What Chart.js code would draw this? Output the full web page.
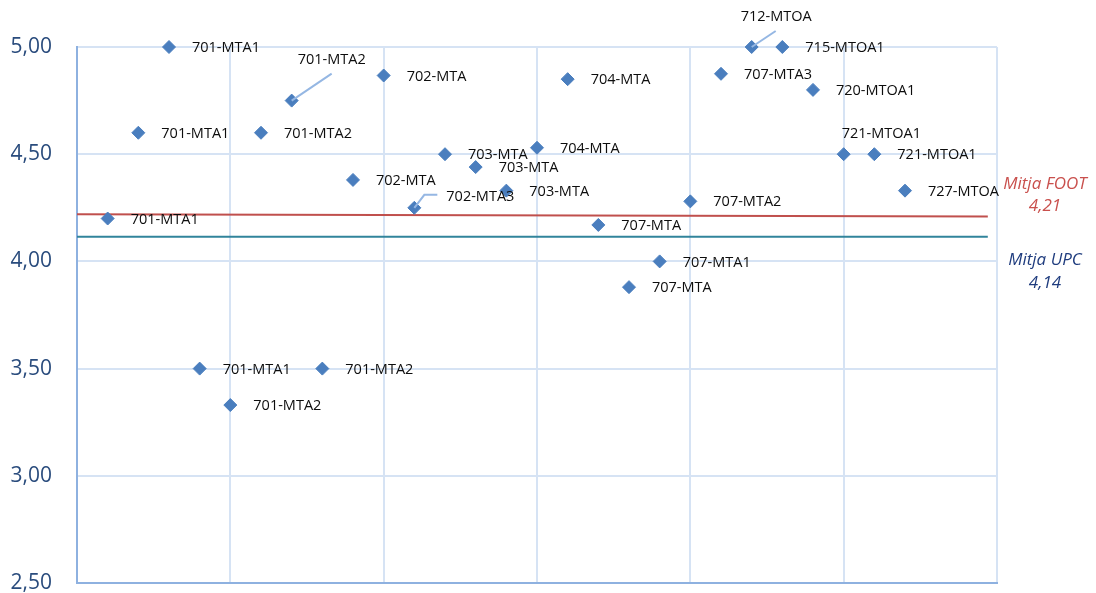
<!DOCTYPE html>
<html>
<head>
<meta charset="utf-8">
<script src="https://cdn.jsdelivr.net/npm/chart.js@4/dist/chart.umd.min.js"></script>
<style>
  html, body { margin: 0; padding: 0; background: #fff; }
  #wrap { width: 1096px; height: 593px; }
</style>
</head>
<body>
<div id="wrap"><canvas id="chart" width="1096" height="593"></canvas></div>
<script>
// group scores, one point per group
const pointX = [1, 2, 3, 4, 5, 6, 7, 8, 9, 10, 11, 12, 13, 14, 15, 16, 17, 18, 19, 20, 21, 22, 23, 24, 25, 26, 27];
const pointY = [4.20, 4.60, 5.00, 3.50, 3.33, 4.60, 4.75, 3.50, 4.38, 4.867, 4.25, 4.50, 4.44, 4.33, 4.53, 4.85,
                4.17, 3.88, 4.00, 4.28, 4.875, 5.00, 5.00, 4.80, 4.50, 4.50, 4.33];
const pointNames = ['701-MTA1', '701-MTA1', '701-MTA1', '701-MTA1', '701-MTA2', '701-MTA2', '701-MTA2', '701-MTA2',
                    '702-MTA', '702-MTA', '702-MTA3', '703-MTA', '703-MTA', '703-MTA', '704-MTA', '704-MTA',
                    '707-MTA', '707-MTA', '707-MTA1', '707-MTA2', '707-MTA3', '712-MTOA', '715-MTOA1', '720-MTOA1',
                    '721-MTOA1', '721-MTOA1', '727-MTOA'];

// mean lines
const meanX = [0, 29.7];
const footMean = [4.22, 4.21];
const upcMean = [4.115, 4.115];
const footText = ['Mitja FOOT', '4,21'];
const upcText = ['Mitja UPC', '4,14'];

// y axis
const yMin = 2.5, yMax = 5.0, yStep = 0.5;
const xMin = 0, xMax = 30, xStep = 5;

// label placement (style only): default right of the marker, a few moved with leader lines
const labelDefault = { dx: 23, dy: 1 };
const labelMoved = {
    6:  { dx: 6,   dy: -41, leader: [[40, -27]] },
    10: { dx: 32,  dy: -11, leader: [[10, -13], [23, -13]] },
    21: { dx: -11, dy: -30, leader: [[24, -16]] },
    24: { dx: -2,  dy: -20 }
};

const FONT = "'Open Sans', 'DejaVu Sans', sans-serif";

const pointLabels = {
    id: 'pointLabels',
    afterDatasetsDraw(chart) {
        const ctx = chart.ctx;
        const xs = chart.scales.x, ys = chart.scales.y;
        ctx.save();
        // leader lines
        ctx.strokeStyle = '#95B7E3';
        ctx.lineWidth = 2;
        pointY.forEach((v, i) => {
            const p = labelMoved[i];
            if (!p || !p.leader) return;
            const px = xs.getPixelForValue(pointX[i]);
            const py = ys.getPixelForValue(v);
            ctx.beginPath();
            ctx.moveTo(px, py);
            p.leader.forEach(l => ctx.lineTo(px + l[0], py + l[1]));
            ctx.stroke();
        });
        // names
        ctx.font = '14.5px ' + FONT;
        ctx.fillStyle = '#0d0d0d';
        ctx.textAlign = 'left';
        ctx.textBaseline = 'middle';
        pointY.forEach((v, i) => {
            const p = labelMoved[i] || labelDefault;
            const px = xs.getPixelForValue(pointX[i]);
            const py = ys.getPixelForValue(v);
            ctx.fillText(pointNames[i], px + p.dx, py + p.dy);
        });
        // mean annotations on the right
        const cx = chart.chartArea.right + 48;
        ctx.font = 'italic 17px ' + FONT;
        ctx.textAlign = 'center';
        const fy = ys.getPixelForValue(footMean[1]);
        ctx.fillStyle = '#C9504D';
        ctx.fillText(footText[0], cx, fy - 32);
        ctx.fillText(footText[1], cx, fy - 10);
        const uy = ys.getPixelForValue(upcMean[1]);
        ctx.fillStyle = '#1F3C7E';
        ctx.fillText(upcText[0], cx, uy + 23);
        ctx.fillText(upcText[1], cx, uy + 46);
        ctx.restore();
    }
};

const ctx = document.getElementById('chart').getContext('2d');
new Chart(ctx, {
    type: 'scatter',
    data: {
        datasets: [
            {
                type: 'line',
                data: meanX.map((x, i) => ({ x: x, y: footMean[i] })),
                borderColor: '#C0504D',
                borderWidth: 2,
                pointRadius: 0,
                order: 3
            },
            {
                type: 'line',
                data: meanX.map((x, i) => ({ x: x, y: upcMean[i] })),
                borderColor: '#31849B',
                borderWidth: 2,
                pointRadius: 0,
                order: 2
            },
            {
                data: pointX.map((x, i) => ({ x: x, y: pointY[i] })),
                pointStyle: 'rectRot',
                pointRadius: 6.5,
                pointBackgroundColor: '#4A7EBE',
                pointBorderColor: '#4A7EBE',
                pointBorderWidth: 1,
                clip: false,
                order: 1
            }
        ]
    },
    options: {
        responsive: false,
        animation: false,
        layout: { padding: { top: 47, right: 99, bottom: 10, left: 0 } },
        plugins: {
            legend: { display: false },
            tooltip: { enabled: false }
        },
        scales: {
            x: {
                type: 'linear',
                min: xMin,
                max: xMax,
                ticks: { display: false, stepSize: xStep },
                grid: { color: '#D6E3F4', lineWidth: 2, drawTicks: false },
                border: { color: '#8EB1E0', width: 2 },
                afterFit: axis => { axis.height = 0; }
            },
            y: {
                min: yMin,
                max: yMax,
                ticks: {
                    stepSize: yStep,
                    padding: 25,
                    color: '#2A4C7D',
                    font: { family: FONT, size: 21 },
                    callback: v => v.toFixed(2).replace('.', ',')
                },
                grid: { color: '#D6E3F4', lineWidth: 2, drawTicks: false },
                border: { color: '#8EB1E0', width: 2 },
                afterFit: axis => {
                    axis.width = 77;
                    axis.paddingTop = 0;
                    axis.paddingBottom = 0;
                }
            }
        }
    },
    plugins: [pointLabels]
});
</script>
</body>
</html>
